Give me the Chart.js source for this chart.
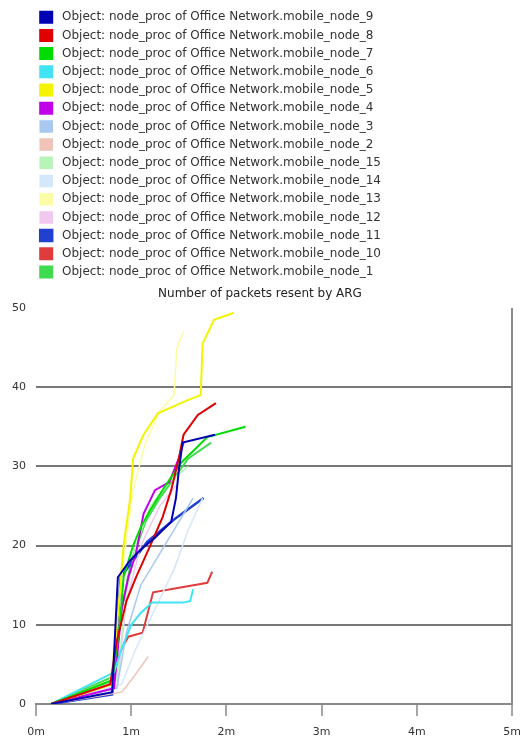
<!DOCTYPE html>
<html>
<head>
<meta charset="utf-8">
<title>Number of packets resent by ARG</title>
<script src="https://cdn.jsdelivr.net/npm/chart.js@4/dist/chart.umd.min.js"></script>
<style>
  html, body { margin: 0; padding: 0; background: #fff; }
  #wrap { width: 520px; height: 742px; position: relative; }
</style>
</head>
<body>
<div id="wrap"><canvas id="chart" width="520" height="742"></canvas></div>
<script>
  // x values in minutes, y values = packets resent
  const xTicks = [0, 1, 2, 3, 4, 5];
  const yTicks = [0, 10, 20, 30, 40, 50];

  const node9_t = [0.16, 0.8, 0.86, 0.98, 1.1, 1.25, 1.42, 1.47, 1.5, 1.54, 1.88];
  const node9_v = [0, 1.5, 16, 18, 19.5, 21, 23, 26, 29.5, 33, 34];
  const node8_t = [0.16, 0.78, 0.85, 0.95, 1.05, 1.2, 1.33, 1.42, 1.5, 1.55, 1.7, 1.89];
  const node8_v = [0, 2.5, 8, 13, 16, 20, 23.6, 27, 31, 34, 36.5, 38];
  const node7_t = [0.16, 0.8, 0.88, 0.92, 1.02, 1.1, 1.2, 1.35, 1.52, 1.8, 2.2];
  const node7_v = [0, 3, 10, 16, 20, 22.3, 24.5, 27.4, 30.4, 33.7, 35];
  const node6_t = [0.16, 0.82, 0.9, 1.0, 1.1, 1.22, 1.55, 1.62, 1.65];
  const node6_v = [0, 4, 7, 10, 11.5, 12.8, 12.8, 13, 14.5];
  const node5_t = [0.16, 0.8, 0.92, 0.99, 1.02, 1.13, 1.28, 1.6, 1.73, 1.75, 1.87, 2.08];
  const node5_v = [0, 2.5, 20, 26, 31, 34, 36.7, 38.4, 39, 45.5, 48.5, 49.4];
  const node4_t = [0.16, 0.82, 0.9, 0.97, 1.05, 1.13, 1.25, 1.4, 1.5, 1.55];
  const node4_v = [0, 2, 12, 16, 19, 24, 27, 28, 31, 33];
  const node3_t = [0.16, 0.85, 0.95, 1.1, 1.3, 1.5, 1.65];
  const node3_v = [0, 2, 9, 15, 19, 23, 26];
  const node2_t = [0.16, 0.9, 1.0, 1.18];
  const node2_v = [0, 1.5, 3, 6];
  const node15_t = [0.16, 0.85, 0.95, 1.05, 1.2, 1.4, 1.6];
  const node15_v = [0, 3, 14, 20, 25, 28, 30];
  const node14_t = [0.16, 0.9, 1.05, 1.25, 1.45, 1.6, 1.75];
  const node14_v = [0, 2.5, 7, 12, 17, 22, 26];
  const node13_t = [0.16, 0.78, 0.92, 1.02, 1.15, 1.3, 1.45, 1.48, 1.55];
  const node13_v = [0, 3, 18, 27, 33, 37, 39, 45, 47];
  const node12_t = [0.16, 0.85, 0.95, 1.1, 1.3, 1.5];
  const node12_v = [0, 2, 13, 20, 25, 28];
  const node11_t = [0.16, 0.8, 0.89, 1.0, 1.17, 1.45, 1.76];
  const node11_v = [0, 1.2, 16, 17.8, 20.5, 23.3, 26];
  const node10_t = [0.16, 0.8, 0.89, 0.97, 1.12, 1.23, 1.8, 1.85];
  const node10_v = [0, 3, 6.8, 8.5, 9, 14.1, 15.3, 16.7];
  const node1_t = [0.16, 0.82, 0.9, 1.0, 1.15, 1.3, 1.45, 1.6, 1.84];
  const node1_v = [0, 3.5, 12, 18, 23, 26, 28.5, 31, 33];

  const series = [
    { name: "mobile_node_9", t: node9_t, v: node9_v, color: "#0000b4", w: 2 },
    { name: "mobile_node_8", t: node8_t, v: node8_v, color: "#e00000", w: 2 },
    { name: "mobile_node_7", t: node7_t, v: node7_v, color: "#00dc00", w: 2 },
    { name: "mobile_node_6", t: node6_t, v: node6_v, color: "#40e4f4", w: 2 },
    { name: "mobile_node_5", t: node5_t, v: node5_v, color: "#f4f400", w: 2 },
    { name: "mobile_node_4", t: node4_t, v: node4_v, color: "#c000e8", w: 2 },
    { name: "mobile_node_3", t: node3_t, v: node3_v, color: "#a8c8f0", w: 1.5 },
    { name: "mobile_node_2", t: node2_t, v: node2_v, color: "#f0c4b8", w: 1.5 },
    { name: "mobile_node_15", t: node15_t, v: node15_v, color: "#b8f4b8", w: 1.5 },
    { name: "mobile_node_14", t: node14_t, v: node14_v, color: "#d4e8fc", w: 1.5 },
    { name: "mobile_node_13", t: node13_t, v: node13_v, color: "#fcfca4", w: 1.5 },
    { name: "mobile_node_12", t: node12_t, v: node12_v, color: "#f0c8f0", w: 1.5 },
    { name: "mobile_node_11", t: node11_t, v: node11_v, color: "#2040d0", w: 2.5 },
    { name: "mobile_node_10", t: node10_t, v: node10_v, color: "#e03c3c", w: 2 },
    { name: "mobile_node_1", t: node1_t, v: node1_v, color: "#40dc50", w: 2 }
  ];

  const FONT = "'DejaVu Sans', Verdana, sans-serif";

  const datasets = series.map((s) => ({
    label: "Object: node_proc of Office Network." + s.name,
    data: s.t.map((t, i) => ({ x: t, y: s.v[i] })),
    borderColor: s.color,
    backgroundColor: s.color,
    borderWidth: s.w,
    pointRadius: 0,
    tension: 0
  }));

  // legend sits indented further than the plot's y-axis labels
  const legendIndent = {
    id: "legendIndent",
    afterLayout(chart) {
      chart.legend.left += 26;
      chart.legend.right += 26;
    }
  };

  new Chart(document.getElementById("chart").getContext("2d"), {
    type: "line",
    data: { datasets },
    plugins: [legendIndent],
    options: {
      responsive: false,
      animation: false,
      devicePixelRatio: 1,
      layout: { padding: { left: 8, right: 8, top: 5, bottom: 0 } },
      plugins: {
        legend: {
          position: "top",
          align: "start",
          labels: {
            boxWidth: 12, boxHeight: 11, padding: 6.2,
            color: "#333",
            font: { family: FONT, size: 12 },
            generateLabels: (chart) =>
              Chart.defaults.plugins.legend.labels.generateLabels(chart).map((l) => ({ ...l, text: " " + l.text }))
          }
        },
        title: {
          display: true,
          text: "Number of packets resent by ARG",
          weight: 500,
          color: "#222",
          padding: { top: 0, bottom: 8 },
          font: { family: FONT, size: 12, weight: "normal", lineHeight: 1 }
        },
        tooltip: { enabled: false }
      },
      scales: {
        x: {
          type: "linear",
          min: 0, max: 5,
          afterBuildTicks: (scale) => { scale.ticks = xTicks.map((v) => ({ value: v })); },
          afterFit: (scale) => {
            scale.height = 38;
            scale.paddingLeft = 0;
            scale.paddingRight = 0;
          },
          ticks: {
            callback: (v) => v + "m",
            color: "#333", padding: 10,
            maxRotation: 0,
            font: { family: FONT, size: 11 }
          },
          grid: {
            drawOnChartArea: true,
            color: (ctx) => (ctx.tick && ctx.tick.value === 5 ? "#8a8a8a" : "rgba(0,0,0,0)"),
            lineWidth: 2,
            tickLength: 12,
            tickColor: "#888",
            tickWidth: 1.5
          },
          border: { display: true, color: "#8a8a8a", width: 2 }
        },
        y: {
          min: 0, max: 50,
          afterBuildTicks: (scale) => { scale.ticks = yTicks.map((v) => ({ value: v })); },
          afterFit: (scale) => { scale.width = 28; },
          ticks: {
            color: "#333", padding: 10,
            font: { family: FONT, size: 11 }
          },
          grid: {
            drawTicks: false,
            color: (ctx) => (ctx.tick && ctx.tick.value > 0 && ctx.tick.value < 50 ? "#777" : "rgba(0,0,0,0)"),
            lineWidth: 2
          },
          border: { display: false }
        }
      }
    }
  });
</script>
</body>
</html>
